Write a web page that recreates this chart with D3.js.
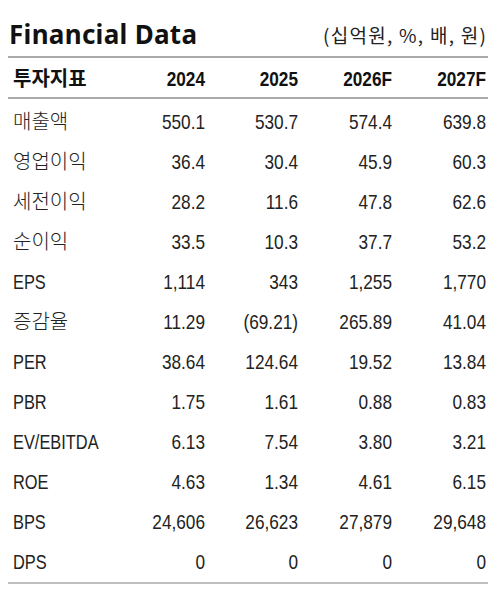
<!DOCTYPE html>
<html><head><meta charset="utf-8">
<script src="https://cdn.jsdelivr.net/npm/d3@7"></script>
<style>body{margin:0;background:#fff}</style>
</head><body>
<div id="wrap"></div>
<script>
const columns = ["2024", "2025", "2026F", "2027F"];
const rowLabels = ["매출액","영업이익","세전이익","순이익","EPS","증감율","PER","PBR","EV/EBITDA","ROE","BPS","DPS"];
const v2024 = ["550.1","36.4","28.2","33.5","1,114","11.29","38.64","1.75","6.13","4.63","24,606","0"];
const v2025 = ["530.7","30.4","11.6","10.3","343","(69.21)","124.64","1.61","7.54","1.34","26,623","0"];
const v2026 = ["574.4","45.9","47.8","37.7","1,255","265.89","19.52","0.88","3.80","4.61","27,879","0"];
const v2027 = ["639.8","60.3","62.6","53.2","1,770","41.04","13.84","0.83","3.21","6.15","29,648","0"];
const series = [v2024, v2025, v2026, v2027];

const W = 498, H = 601;
const font = "'Liberation Sans','Noto Sans CJK KR',sans-serif";
const sx = 0.82;
const svg = d3.select("#wrap").append("svg").attr("width", W).attr("height", H);

const xRight = d3.scaleOrdinal().domain(columns).range([205, 298, 392, 486]);
const y = d3.scalePoint().domain(rowLabels).range([121, 561]);

svg.append("text").attr("x", 9).attr("y", 44).text("Financial Data")
  .style("font-family", "'Noto Sans','Noto Sans CJK KR',sans-serif").style("font-weight", 700)
  .style("font-size", "26px").attr("fill", "#111").attr("textLength", 188);
svg.append("text").attr("x", 486).attr("y", 43).attr("text-anchor", "end")
  .text("(십억원, %, 배, 원)").style("font-family", "'Noto Sans CJK KR',sans-serif")
  .style("font-size", "19px").attr("fill", "#222").attr("textLength", 163);

[[57, 2], [98, 2], [583, 1.5]].forEach(([yy, sw]) =>
  svg.append("line").attr("x1", 8).attr("x2", 488).attr("y1", yy).attr("y2", yy)
    .attr("stroke", "#aaa").attr("stroke-width", sw));

svg.append("text").attr("x", 13).attr("y", 86).text("투자지표")
  .style("font-family", "'Noto Sans CJK KR',sans-serif").style("font-weight", 700)
  .style("font-size", "20px").attr("fill", "#111");
svg.selectAll(".hd").data(columns).enter().append("text")
  .attr("transform", d => `translate(${xRight(d)},86) scale(${sx},1)`)
  .attr("text-anchor", "end").text(d => d)
  .style("font-family", font).style("font-weight", 700).style("font-size", "21px").attr("fill", "#111");

svg.selectAll(".lb").data(rowLabels).enter().append("text")
  .attr("transform", d => `translate(13,${y(d) + 8}) scale(${/[A-Z]/.test(d) ? sx : 1},1)`)
  .text(d => d)
  .style("font-family", font).style("font-size", "20px").style("font-weight", 300).attr("fill", "#222");

series.forEach((vals, ci) => {
  svg.selectAll(".c" + ci).data(vals).enter().append("text")
    .attr("transform", (d, i) => `translate(${xRight(columns[ci])},${y(rowLabels[i]) + 8}) scale(${sx},1)`)
    .attr("text-anchor", "end").text(d => d)
    .style("font-family", font).style("font-size", "21px").attr("fill", "#222");
});
</script>
</body></html>
